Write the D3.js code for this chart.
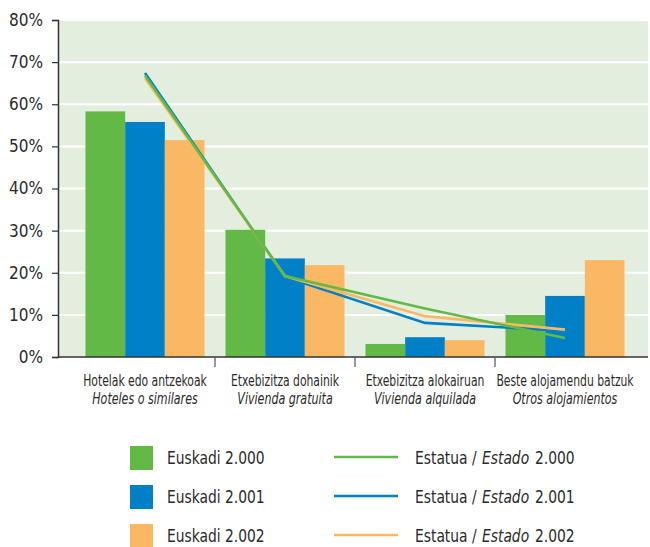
<!DOCTYPE html>
<html>
<head>
<meta charset="utf-8">
<script src="https://cdn.jsdelivr.net/npm/d3@7"></script>
<style>
  html, body { margin: 0; padding: 0; background: #fff; }
  svg text { font-family: "DejaVu Sans Condensed", "DejaVu Sans", sans-serif; fill: #2b2b2b; }
</style>
</head>
<body>
<svg id="chart" width="650" height="547"></svg>
<script>
// ---- data ----
const categoriesEu = ["Hotelak edo antzekoak", "Etxebizitza dohainik", "Etxebizitza alokairuan", "Beste alojamendu batzuk"];
const categoriesEs = ["Hoteles o similares", "Vivienda gratuita", "Vivienda alquilada", "Otros alojamientos"];
const years = ["2.000", "2.001", "2.002"];
const euskadi2000 = [58.3, 30.2, 3.1, 10.0];
const euskadi2001 = [55.8, 23.4, 4.7, 14.5];
const euskadi2002 = [51.5, 21.8, 4.0, 23.0];
const estado2000 = [66.8, 19.2, 11.5, 4.5];
const estado2001 = [67.4, 19.0, 8.1, 6.2];
const estado2002 = [66.2, 19.2, 9.7, 6.5];
const yTicks = [0, 10, 20, 30, 40, 50, 60, 70, 80];
const colors = ["#62b946", "#0080c6", "#fbb864"];

const barSeries = [euskadi2000, euskadi2001, euskadi2002];
const lineSeries = [estado2000, estado2001, estado2002];

// ---- helpers ----
function txt(parent, x, y, str, size, anchor, sx, italic) {
  return parent.append("text")
    .attr("transform", `translate(${x},${y}) scale(${sx},1)`)
    .attr("text-anchor", anchor)
    .style("font-size", size + "px")
    .style("font-style", italic ? "italic" : "normal")
    .text(str);
}

// ---- layout ----
const svg = d3.select("#chart");
const plot = { left: 58, right: 648, top: 20, bottom: 357 };

const y = d3.scaleLinear().domain([0, 80]).range([plot.bottom, plot.top]);
const x = d3.scaleBand().domain(d3.range(categoriesEu.length))
  .range([75, 635]).paddingInner(0.15).paddingOuter(0.075);
const xs = d3.scaleBand().domain(d3.range(years.length)).range([0, x.bandwidth()]);

// background
svg.append("rect").attr("x", plot.left).attr("y", plot.top)
  .attr("width", plot.right - plot.left).attr("height", plot.bottom - plot.top)
  .attr("fill", "#e4eedf");

// gridlines
svg.append("g").selectAll("line").data(yTicks.filter(d => d > 0)).join("line")
  .attr("x1", plot.left).attr("x2", plot.right)
  .attr("y1", d => y(d)).attr("y2", d => y(d))
  .attr("stroke", "#ffffff").attr("stroke-width", 2);

// bars
barSeries.forEach((vals, si) => {
  svg.append("g").selectAll("rect").data(vals).join("rect")
    .attr("x", (d, i) => x(i) + xs(si))
    .attr("y", d => y(d))
    .attr("width", xs.bandwidth())
    .attr("height", d => y(0) - y(d))
    .attr("fill", colors[si]);
});

// lines (draw order: blue, orange, green)
const line = d3.line().x((d, i) => x(i) + x.bandwidth() / 2).y(d => y(d));
[1, 2, 0].forEach(si => {
  svg.append("path").datum(lineSeries[si])
    .attr("d", line).attr("fill", "none")
    .attr("stroke", colors[si]).attr("stroke-width", 2.6);
});

// y axis
const yAxis = d3.axisLeft(y).tickValues(yTicks).tickFormat(d => d + "%").tickSize(6).tickPadding(9);
const gy = svg.append("g").attr("transform", `translate(${plot.left},0)`).call(yAxis);
gy.select(".domain").attr("stroke", "#333").attr("stroke-width", 1.5);
gy.selectAll(".tick line").attr("stroke", "#333").attr("stroke-width", 1.2);
gy.selectAll(".tick text").style("font-size", "17px").attr("fill", "#2b2b2b")
  .style("font-family", '"DejaVu Sans Condensed", "DejaVu Sans", sans-serif');

// x axis line
svg.append("line").attr("x1", plot.left).attr("x2", plot.right)
  .attr("y1", plot.bottom).attr("y2", plot.bottom)
  .attr("stroke", "#333").attr("stroke-width", 1.5);
// category separator ticks
const sepTicks = d3.range(1, categoriesEu.length).map(i => x(i) - x.step() * x.paddingInner() / 2);
svg.append("g").selectAll("line").data(sepTicks).join("line")
  .attr("x1", d => d).attr("x2", d => d)
  .attr("y1", plot.bottom).attr("y2", plot.bottom + 10)
  .attr("stroke", "#555").attr("stroke-width", 1.2);

// category labels
const lab = svg.append("g");
categoriesEu.forEach((c, i) => {
  const cx = x(i) + x.bandwidth() / 2;
  txt(lab, cx, 386, c, 16, "middle", 0.75, false);
  txt(lab, cx, 404, categoriesEs[i], 16, "middle", 0.77, true);
});

// legend
const leg = svg.append("g");
const legRowY = [457, 496, 535];
years.forEach((yr, i) => {
  const cy = legRowY[i];
  leg.append("rect").attr("x", 130).attr("y", cy - 11).attr("width", 23).attr("height", 24)
    .attr("fill", colors[i]);
  txt(leg, 167, cy + 7, "Euskadi " + yr, 17.5, "start", 0.88, false);
  leg.append("line").attr("x1", 334).attr("x2", 398).attr("y1", cy).attr("y2", cy)
    .attr("stroke", colors[i]).attr("stroke-width", 2.6);
  txt(leg, 415, cy + 7, "Estatua /", 17.5, "start", 0.88, false);
  txt(leg, 482, cy + 7, "Estado", 17.5, "start", 0.88, true);
  txt(leg, 535, cy + 7, yr, 17.5, "start", 0.88, false);
});
</script>
</body>
</html>
